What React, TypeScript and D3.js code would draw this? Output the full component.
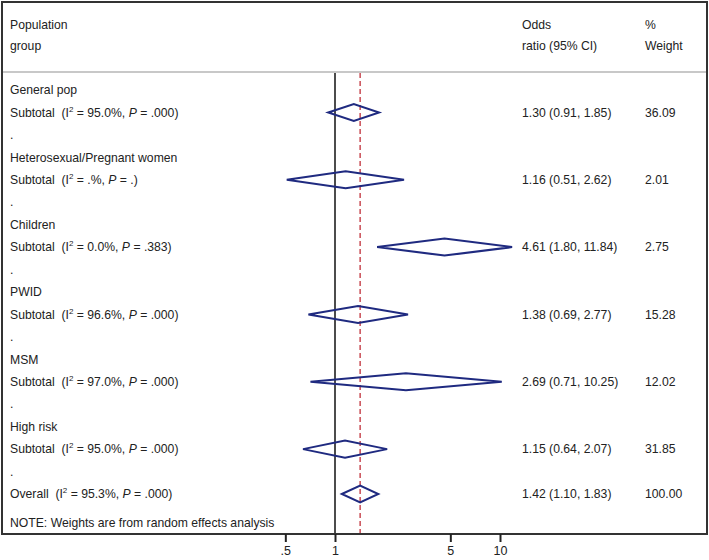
import * as d3 from "d3";
import React, { useEffect, useRef } from "react";

const WIDTH = 709;
const HEIGHT = 560;

// data
const groups = ["General pop", "Heterosexual/Pregnant women", "Children", "PWID", "MSM", "High risk"];
const i2 = ["95.0%", ".%", "0.0%", "96.6%", "97.0%", "95.0%"];
const pVals = [".000", ".", ".383", ".000", ".000", ".000"];
const oddsRatio = [1.3, 1.16, 4.61, 1.38, 2.69, 1.15];
const lower = [0.91, 0.51, 1.8, 0.69, 0.71, 0.64];
const upper = [1.85, 2.62, 11.84, 2.77, 10.25, 2.07];
const weights = ["36.09", "2.01", "2.75", "15.28", "12.02", "31.85"];
const overallOR = 1.42;
const overallLo = 1.1;
const overallHi = 1.83;
const overallI2 = "95.3%";
const overallP = ".000";
const tickValues = [0.5, 1, 5, 10];
const tickLabels = [".5", "1", "5", "10"];

const BOX = { left: 2, right: 707, top: 2, bottom: 534, header: 72 };
const FONT = "Arial, 'Liberation Sans', sans-serif";
const NAVY = "#1f2a80";

const App: React.FC = () => {
    const axisRef = useRef(null);

    // log scale for odds ratio
    const xScale = d3.scaleLog().domain([1, 10]).range([335, 500]);
    // row index -> y
    const yScale = d3.scaleLinear().domain([0, 18]).range([90, 494]);

    useEffect(() => {
        const g = d3.select(axisRef.current);
        g.selectAll("*").remove();
        const axis = d3
            .axisBottom(xScale)
            .tickValues(tickValues)
            .tickFormat((_d, i) => tickLabels[i])
            .tickSize(8)
            .tickSizeOuter(0);
        g.attr("transform", `translate(0,${BOX.bottom})`).call(axis);
        g.select(".domain").remove();
        g.selectAll(".tick line").attr("stroke", "#222").attr("stroke-width", 2);
        g.selectAll(".tick text")
            .attr("y", 12)
            .attr("fill", "#222")
            .style("font-size", "12.5px")
            .style("font-family", FONT);
    }, []);

    const diamond = (or: number, lo: number, hi: number, y: number) => {
        const h = 8.5;
        const pts = [
            [xScale(lo), y],
            [xScale(or), y - h],
            [xScale(hi), y],
            [xScale(or), y + h],
        ];
        return (d3.line()(pts as [number, number][]) || "") + "Z";
    };

    const subtotalText = (label: string, iv: string, pv: string, y: number, key: string) => (
        <text key={key} x={10} y={y} dy="0.35em" style={{ whiteSpace: "pre" }}>
            {label + "  (I"}
            <tspan dy={-5} fontSize={8}>2</tspan>
            <tspan dy={5}>{" = " + iv + ", "}</tspan>
            <tspan fontStyle="italic">P</tspan>
            {" = " + pv + ")"}
        </text>
    );

    const rows: React.ReactNode[] = [];
    groups.forEach((name, i) => {
        const yName = yScale(i * 3);
        const ySub = yScale(i * 3 + 1);
        const yDot = yScale(i * 3 + 2);
        rows.push(
            <text key={"n" + i} x={10} y={yName} dy="0.35em">{name}</text>
        );
        rows.push(subtotalText("Subtotal", i2[i], pVals[i], ySub, "s" + i));
        rows.push(
            <text key={"d" + i} x={10} y={yDot} dy="0.35em">.</text>
        );
        rows.push(
            <path key={"p" + i} d={diamond(oddsRatio[i], lower[i], upper[i], ySub)}
                fill="none" stroke={NAVY} strokeWidth={2} strokeLinejoin="miter" />
        );
        rows.push(
            <text key={"o" + i} x={522} y={ySub} dy="0.35em">
                {`${oddsRatio[i].toFixed(2)} (${lower[i].toFixed(2)}, ${upper[i].toFixed(2)})`}
            </text>
        );
        rows.push(
            <text key={"w" + i} x={645} y={ySub} dy="0.35em">{weights[i]}</text>
        );
    });

    const yOverall = yScale(18);

    return (
        <svg width={WIDTH} height={HEIGHT}
            style={{ position: "absolute", left: 0, top: 0, background: "#fff" }}
            fontFamily={FONT} fontSize={12.2} fill="#222">
            <rect x={0} y={0} width={WIDTH} height={HEIGHT} fill="#fff" />
            {/* header */}
            <text x={10} y={25} dy="0.35em">Population</text>
            <text x={10} y={46} dy="0.35em">group</text>
            <text x={522} y={25} dy="0.35em">Odds</text>
            <text x={522} y={46} dy="0.35em">ratio (95% CI)</text>
            <text x={645} y={25} dy="0.35em">%</text>
            <text x={645} y={46} dy="0.35em">Weight</text>
            <line x1={BOX.left} x2={BOX.right} y1={BOX.header} y2={BOX.header} stroke="#c8c8c8" strokeWidth={2} />

            {/* reference lines */}
            <line x1={xScale(1)} x2={xScale(1)} y1={BOX.header + 1} y2={BOX.bottom} stroke="#111" strokeWidth={1.5} />
            <line x1={xScale(overallOR)} x2={xScale(overallOR)} y1={BOX.header + 1} y2={BOX.bottom}
                stroke="#c0303a" strokeWidth={1.3} strokeDasharray="5,3" />

            {rows}

            {subtotalText("Overall", overallI2, overallP, yOverall, "overall")}
            <path d={diamond(overallOR, overallLo, overallHi, yOverall)} fill="none" stroke={NAVY} strokeWidth={2} />
            <text x={522} y={yOverall} dy="0.35em">
                {`${overallOR.toFixed(2)} (${overallLo.toFixed(2)}, ${overallHi.toFixed(2)})`}
            </text>
            <text x={645} y={yOverall} dy="0.35em">100.00</text>

            <text x={10} y={523} dy="0.35em">NOTE: Weights are from random effects analysis</text>

            {/* frame */}
            <rect x={BOX.left} y={BOX.top} width={BOX.right - BOX.left} height={BOX.bottom - BOX.top}
                fill="none" stroke="#333" strokeWidth={2} />
            <g ref={axisRef} />
        </svg>
    );
};

export default App;
